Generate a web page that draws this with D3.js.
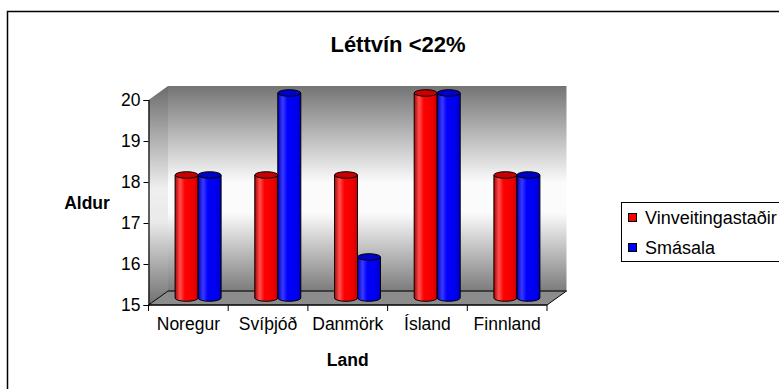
<!DOCTYPE html>
<html>
<head>
<meta charset="utf-8">
<script src="https://cdn.jsdelivr.net/npm/d3@7/dist/d3.min.js"></script>
<style>
  html, body { margin: 0; padding: 0; background: #fff; }
  svg { display: block; }
  text { font-family: "Liberation Sans", Arial, sans-serif; fill: #000; }
</style>
</head>
<body>
<svg id="chart" width="779" height="389"></svg>
<script>
// Data
const categories = ["Noregur", "Svíþjóð", "Danmörk", "Ísland", "Finnland"];
const seriesNames = ["Vinveitingastaðir", "Smásala"];
const vinveitingastadir = [18, 18, 18, 20, 18];
const smasala = [18, 20, 16, 20, 18];
const yTicks = [15, 16, 17, 18, 19, 20];

const seriesValues = [vinveitingastadir, smasala];
const seriesColors = [
  { body: ["#b80000", "#ff5050", "#ff0000", "#ee0000", "#c80000"], top: "#c80000", key: "#ff0000" },
  { body: ["#0000b8", "#3a3aff", "#0000ff", "#0000ee", "#0000c0"], top: "#0000c8", key: "#0000ff" }
];

const svg = d3.select("#chart");
const defs = svg.append("defs");

// 3D frame geometry: front plane and depth offset of the back wall
const front = { left: 148.5, right: 547, top: 100, bottom: 305 };
const depth = { dx: 19.5, dy: -14 };

const x = d3.scaleBand().domain(categories).range([front.left, front.right]);
const y = d3.scaleLinear().domain([15, 20]).range([front.bottom, front.top]);

// Outer frame
svg.append("rect")
  .attr("x", 7.5).attr("y", 11.5).attr("width", 820).attr("height", 420)
  .attr("fill", "none").attr("stroke", "#000").attr("stroke-width", 1.5);

// Wall gradient
const wallGrad = defs.append("linearGradient")
  .attr("id", "wallGrad").attr("gradientUnits", "userSpaceOnUse")
  .attr("x1", 0).attr("x2", 0)
  .attr("y1", front.top + depth.dy).attr("y2", front.bottom + depth.dy);
[[0, "#747474"], [0.47, "#fbfbfb"], [0.62, "#fbfbfb"], [1, "#7c7c7c"]]
  .forEach(([o, c]) => wallGrad.append("stop").attr("offset", o).attr("stop-color", c));

const sideGrad = defs.append("linearGradient")
  .attr("id", "sideGrad").attr("gradientUnits", "userSpaceOnUse")
  .attr("x1", 0).attr("x2", 0)
  .attr("y1", front.top + depth.dy).attr("y2", front.bottom);
[[0, "#6c6c6c"], [0.47, "#efefef"], [0.62, "#eaeaea"], [1, "#707070"]]
  .forEach(([o, c]) => sideGrad.append("stop").attr("offset", o).attr("stop-color", c));

const bx0 = front.left + depth.dx, bx1 = front.right + depth.dx;
const by0 = y(20) + depth.dy, by1 = y(15) + depth.dy;

// Back wall
svg.append("rect")
  .attr("x", bx0).attr("y", by0).attr("width", bx1 - bx0).attr("height", by1 - by0)
  .attr("fill", "url(#wallGrad)");

// Left side wall
svg.append("path")
  .attr("d", `M${front.left},${y(20)} L${bx0},${by0} L${bx0},${by1} L${front.left},${y(15)} Z`)
  .attr("fill", "url(#sideGrad)");

// Floor
svg.append("path")
  .attr("d", `M${front.left},${y(15)} L${bx0},${by1} L${bx1},${by1} L${front.right},${y(15)} Z`)
  .attr("fill", "#8c8c8c").attr("stroke", "#000").attr("stroke-width", 1);
svg.append("line")
  .attr("x1", bx0).attr("x2", bx1).attr("y1", by1).attr("y2", by1)
  .attr("stroke", "#3a3a3a").attr("stroke-width", 1);

// Y axis
const yAxis = svg.append("g")
  .attr("transform", `translate(${front.left},0)`)
  .call(d3.axisLeft(y).tickValues(yTicks).tickSize(5).tickPadding(3).tickFormat(d3.format("d")));
yAxis.select(".domain").attr("stroke", "#000").attr("stroke-width", 1.2);
yAxis.selectAll(".tick line").attr("stroke", "#000");
yAxis.selectAll(".tick text")
  .attr("font-size", 17.5).attr("font-family", "Liberation Sans, Arial, sans-serif").attr("fill", "#000");

// X axis labels
const xAxis = svg.append("g")
  .attr("transform", `translate(0,${front.bottom})`)
  .call(d3.axisBottom(x).tickSize(0).tickPadding(13));
xAxis.select(".domain").remove();
xAxis.selectAll(".tick text")
  .attr("font-size", 17.5).attr("font-family", "Liberation Sans, Arial, sans-serif").attr("fill", "#000");
svg.append("line")
  .attr("x1", front.left).attr("x2", front.right).attr("y1", front.bottom).attr("y2", front.bottom)
  .attr("stroke", "#000").attr("stroke-width", 1.2);
// Category separators
const edges = categories.map(c => x(c)).concat([x(categories[categories.length - 1]) + x.bandwidth()]);
svg.selectAll(".sep").data(edges).enter().append("line")
  .attr("x1", d => d).attr("x2", d => d)
  .attr("y1", front.bottom).attr("y2", front.bottom + 6)
  .attr("stroke", "#000").attr("stroke-width", 1);

// Cylinder gradients
seriesColors.forEach((c, i) => {
  const g = defs.append("linearGradient").attr("id", "cyl" + i)
    .attr("x1", 0).attr("x2", 1).attr("y1", 0).attr("y2", 0);
  [[0, c.body[0]], [0.22, c.body[1]], [0.42, c.body[2]], [0.8, c.body[3]], [1, c.body[4]]]
    .forEach(([o, col]) => g.append("stop").attr("offset", o).attr("stop-color", col));
});

// Bars drawn as cylinders at mid depth
const groupWidth = 46;
const ry = 3.3;
const bars = svg.append("g");
categories.forEach((cat, ci) => {
  const cx = x(cat) + x.bandwidth() / 2 + depth.dx / 2;
  const xs = d3.scaleBand().domain(seriesNames).range([cx - groupWidth / 2, cx + groupWidth / 2]);
  seriesNames.forEach((s, si) => {
    const v = seriesValues[si][ci];
    const xl = xs(s), xr = xl + xs.bandwidth();
    const rx = xs.bandwidth() / 2;
    const yb = y(15) + depth.dy / 2;
    const yt = y(v) + depth.dy / 2;
    bars.append("path")
      .attr("d", `M${xl},${yt} L${xl},${yb} A${rx},${ry} 0 0 0 ${xr},${yb} L${xr},${yt} Z`)
      .attr("fill", `url(#cyl${si})`).attr("stroke", "none");
    bars.append("path")
      .attr("d", `M${xl},${yt} L${xl},${yb} A${rx},${ry} 0 0 0 ${xr},${yb} L${xr},${yt}`)
      .attr("fill", "none").attr("stroke", "#000").attr("stroke-width", 1);
    bars.append("ellipse")
      .attr("cx", (xl + xr) / 2).attr("cy", yt).attr("rx", rx).attr("ry", ry)
      .attr("fill", seriesColors[si].top).attr("stroke", "#000").attr("stroke-width", 1);
  });
});

// Title and axis titles
svg.append("text").attr("x", 398).attr("y", 52).attr("text-anchor", "middle")
  .attr("font-size", 22).attr("font-weight", "bold").text("Léttvín <22%");
svg.append("text").attr("x", 87).attr("y", 209).attr("text-anchor", "middle")
  .attr("font-size", 17.5).attr("font-weight", "bold").text("Aldur");
svg.append("text").attr("x", (front.left + front.right) / 2).attr("y", 366).attr("text-anchor", "middle")
  .attr("font-size", 17.5).attr("font-weight", "bold").text("Land");

// Legend
const legend = svg.append("g");
legend.append("rect").attr("x", 621.5).attr("y", 202.5).attr("width", 300).attr("height", 59)
  .attr("fill", "#fff").attr("stroke", "#000").attr("stroke-width", 1);
seriesNames.forEach((s, i) => {
  const yy = 217 + i * 30;
  legend.append("rect").attr("x", 628.5).attr("y", yy - 3.5).attr("width", 8).attr("height", 8)
    .attr("fill", seriesColors[i].key).attr("stroke", "#000").attr("stroke-width", 1);
  legend.append("text").attr("x", 645).attr("y", yy + 6.5)
    .attr("font-size", 18).text(s);
});
</script>
</body>
</html>
